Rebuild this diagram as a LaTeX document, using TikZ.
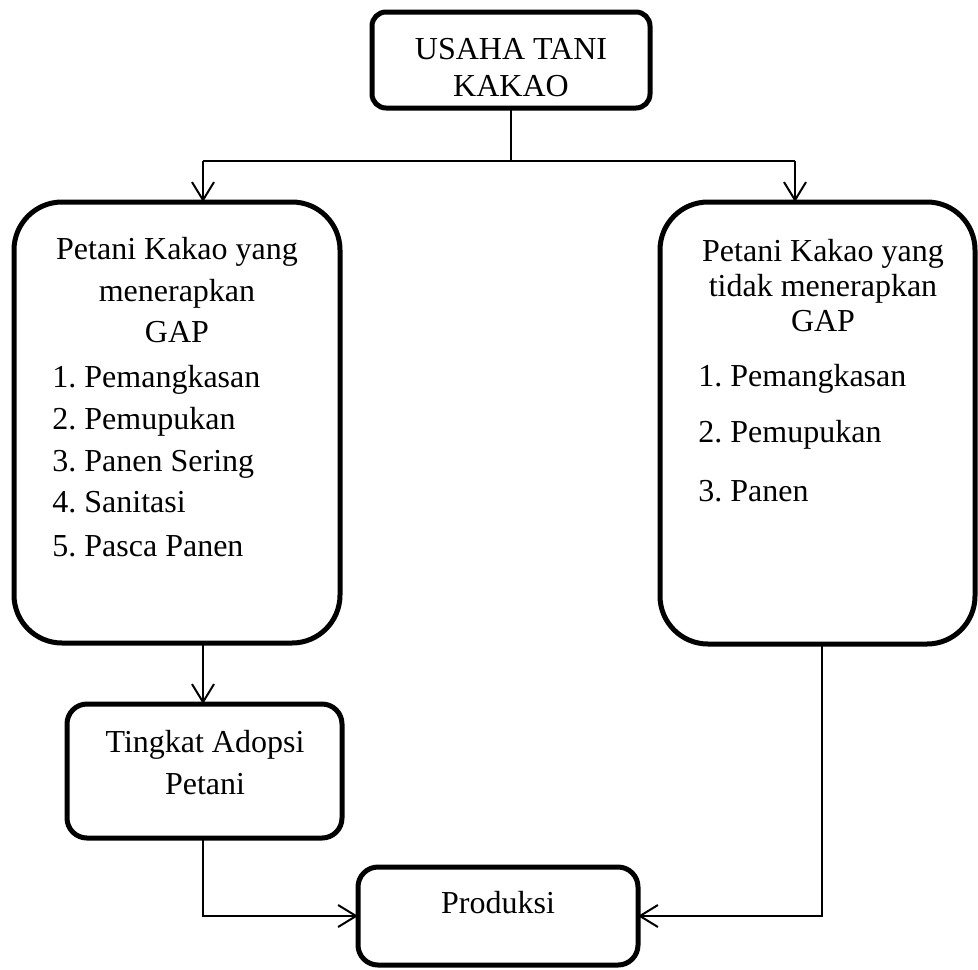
\documentclass[tikz,border=0pt]{standalone}
\usepackage{fontspec}
\setmainfont{Liberation Serif}
\usetikzlibrary{arrows.meta}
\frenchspacing
\begin{document}
\begin{tikzpicture}[x=0.5pt,y=-0.5pt,
  box/.style={draw, line width=2.5pt, inner sep=0pt, outer sep=0pt},
  conn/.style={line width=1pt},
  arr/.style={line width=1pt, -{Straight Barb[length=9pt,width=11pt]}},
  txt/.style={inner sep=0pt, anchor=base, font=\fontsize{16}{21}\selectfont},
  ltxt/.style={txt, anchor=base west}]
\useasboundingbox (0,0) rectangle (978,969);
% boxes
\node[box, rounded corners=7pt, minimum width=139pt, minimum height=48pt] (top) at (511,60) {};
\node[box, rounded corners=24pt, minimum width=163pt, minimum height=220.5pt] (left) at (177,422.5) {};
\node[box, rounded corners=24pt, minimum width=157.5pt, minimum height=221pt] (right) at (817.5,423) {};
\node[box, rounded corners=10pt, minimum width=137.5pt, minimum height=67pt] (ting) at (204.5,771) {};
\node[box, rounded corners=10pt, minimum width=140pt, minimum height=49pt] (prod) at (498,916) {};
% texts
\node[txt] (t1) at (511,59) {USAHA TANI};
\node[txt] (t2) at (511,96) {KAKAO};
\node[txt] (l1) at (177,259) {Petani Kakao yang};
\node[txt] (l2) at (177,301) {menerapkan};
\node[txt] (l3) at (177,342) {GAP};
\node[ltxt] (li1) at (52,387) {1. Pemangkasan};
\node[ltxt] (li2) at (52,429) {2. Pemupukan};
\node[ltxt] (li3) at (52,471) {3. Panen Sering};
\node[ltxt] (li4) at (52,512) {4. Sanitasi};
\node[ltxt] (li5) at (52,556) {5. Pasca Panen};
\node[txt] (r1) at (823,261) {Petani Kakao yang};
\node[txt] (r2) at (823,296) {tidak menerapkan};
\node[txt] (r3) at (823,331) {GAP};
\node[ltxt] (ri1) at (698,386) {1. Pemangkasan};
\node[ltxt] (ri2) at (698,442) {2. Pemupukan};
\node[ltxt] (ri3) at (698,501) {3. Panen};
\node[txt] (g1) at (205,752) {Tingkat Adopsi};
\node[txt] (g2) at (205,794) {Petani};
\node[txt] (p1) at (498,913) {Produksi};
% connectors
\coordinate (split) at (511,161);
\coordinate (la) at (203,161);
\coordinate (ra) at (795,161);
\coordinate (rb) at (822,161);
\draw[conn] (top.south) -- (split);
\draw[conn] (la) -- (ra);
\draw[arr] (la) -- (la |- left.north);
\draw[arr] (ra) -- (ra |- right.north);
\draw[arr] (left.south -| la) -- (ting.north -| la);
\draw[arr] (ting.south -| la) |- (prod.west);
\draw[arr] (right.south -| rb) |- (prod.east);
\end{tikzpicture}
\end{document}
